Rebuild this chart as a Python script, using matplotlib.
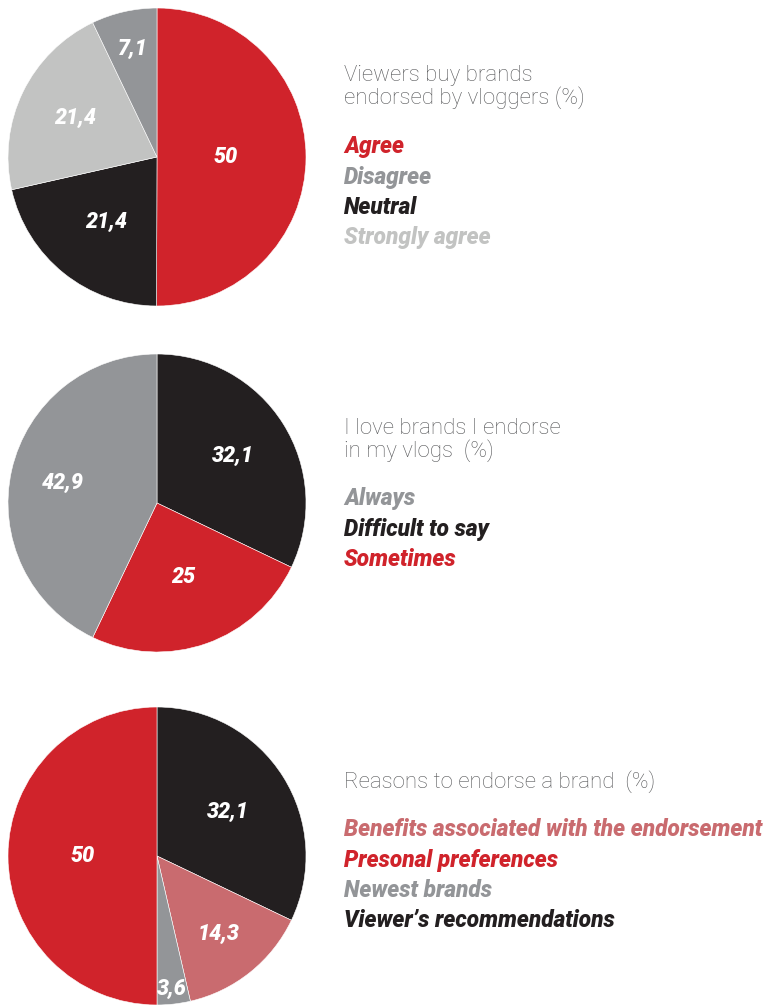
import numpy as np
import matplotlib
matplotlib.use('Agg')
import matplotlib.pyplot as plt

W, H = 766, 1006

red = '#D0232B'
black = '#231F20'
lgray = '#C2C3C2'
gray = '#939598'
pink = '#C96B6F'
title_col = '#58595B'

# pie 1
p1_values = [50, 21.4, 21.4, 7.1]
p1_labels = ['50', '21,4', '21,4', '7,1']
p1_colors = [red, black, lgray, gray]
p1_title = ['Viewers buy brands', 'endorsed by vloggers (%)']
p1_legend = ['Agree', 'Disagree', 'Neutral', 'Strongly agree']
p1_legend_colors = [red, gray, black, lgray]

# pie 2
p2_values = [32.1, 25, 42.9]
p2_labels = ['32,1', '25', '42,9']
p2_colors = [black, red, gray]
p2_title = ['I love brands I endorse', 'in my vlogs  (%)']
p2_legend = ['Always', 'Difficult to say', 'Sometimes']
p2_legend_colors = [gray, black, red]

# pie 3
p3_values = [32.1, 14.3, 3.6, 50]
p3_labels = ['32,1', '14,3', '3,6', '50']
p3_colors = [black, pink, gray, red]
p3_title = ['Reasons to endorse a brand  (%)']
p3_legend = ['Benefits associated with the endorsement', 'Presonal preferences',
             'Newest brands', 'Viewer\u2019s recommendations']
p3_legend_colors = [pink, red, gray, black]

fig = plt.figure(figsize=(W / 100, H / 100), dpi=100)

def draw_pie(cy, values, labels, colors, dists):
    r = 149
    cx = 157
    ax = fig.add_axes([(cx - r) / W, (H - cy - r) / H, 2 * r / W, 2 * r / H])
    wedges, _ = ax.pie(values, colors=colors, startangle=90, counterclock=False,
                       radius=1, wedgeprops=dict(edgecolor='white', linewidth=0.4))
    for w, lab, d in zip(wedges, labels, dists):
        a = np.deg2rad((w.theta1 + w.theta2) / 2)
        ax.text(d * np.cos(a), d * np.sin(a), lab, color='white', fontsize=15.5,
                family='Roboto', weight='black', style='italic',
                ha='center', va='center')
    ax.set_xlim(-1, 1)
    ax.set_ylim(-1, 1)
    ax.set_aspect('equal')
    ax.axis('off')

def draw_text(ytitle, title, ylegend, legend, colors):
    for i, t in enumerate(title):
        fig.text(344 / W, 1 - (ytitle + i * 23) / H, t, color=title_col, fontsize=16,
                 family='Roboto', weight='light', va='center')
    for i, (t, c) in enumerate(zip(legend, colors)):
        fig.text(344 / W, 1 - (ylegend + i * 30.3) / H, t, color=c, fontsize=16.3,
                 family='Roboto', weight='heavy', style='italic', va='center')

draw_pie(157, p1_values, p1_labels, p1_colors, [0.46, 0.55, 0.61, 0.75])
draw_pie(503, p2_values, p2_labels, p2_colors, [0.6, 0.53, 0.65])
draw_pie(856, p3_values, p3_labels, p3_colors, [0.56, 0.66, 0.89, 0.5])

draw_text(75, p1_title, 147, p1_legend, p1_legend_colors)
draw_text(428, p2_title, 499, p2_legend, p2_legend_colors)
draw_text(782, p3_title, 830, p3_legend, p3_legend_colors)

fig.savefig('out.png', dpi=100)
